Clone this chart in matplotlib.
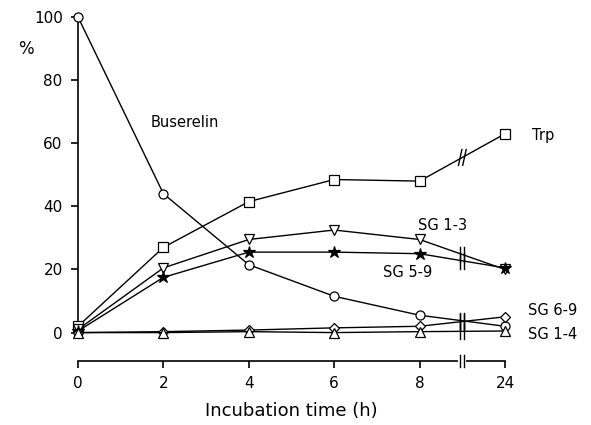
import numpy as np
import matplotlib
matplotlib.use('agg')
import matplotlib.pyplot as plt

time_labels = ['0', '2', '4', '6', '8', '24']

buserelin = [100, 44, 21.5, 11.5, 5.5, 2]
trp = [2, 27, 41.5, 48.5, 48, 63]
sg_1_3 = [1, 20.5, 29.5, 32.5, 29.5, 20]
sg_5_9 = [0.5, 17.5, 25.5, 25.5, 25, 20.5]
sg_6_9 = [0, 0.3, 0.8, 1.5, 2, 5]
sg_1_4 = [0, 0, 0.3, 0, 0.3, 0.5]

# the last sample (24 h) sits after an axis break, one step past 8 h
xpos = np.arange(len(time_labels)) * 2.0
xbreak = 9.0

series = [
    (buserelin, dict(marker='o', mfc='white')),
    (trp, dict(marker='s', mfc='white')),
    (sg_1_3, dict(marker='v', mfc='white')),
    (sg_5_9, dict(marker='*', mfc='black', markersize=9)),
    (sg_6_9, dict(marker='D', mfc='white', markersize=5)),
    (sg_1_4, dict(marker='^', mfc='white')),
]

fig = plt.figure(figsize=(5.91, 4.25), dpi=100)
ax = fig.add_axes([0.132, 0.1506, 0.7225, 0.8094])

for vals, style in series:
    kw = dict(color='black', lw=1.0, markersize=6.5, mec='black', mew=0.9,
              clip_on=False, zorder=3)
    kw.update(style)
    ax.plot(xpos, vals, **kw)

# break marks where each line crosses the gap between 8 h and 24 h
for vals, _ in series:
    ymid = (vals[-2] + vals[-1]) / 2.0
    slant = 0.04 if vals is trp else 0.0
    for dx in (-0.05, 0.05):
        ax.plot([xbreak + dx - slant, xbreak + dx + slant],
                [ymid - 2.5, ymid + 2.5], color='black',
                lw=1.0, zorder=4, clip_on=False)

ax.set_xlim(0, 10)
ax.set_ylim(-9, 100)
for side in ('top', 'right'):
    ax.spines[side].set_visible(False)
ax.spines['left'].set_bounds(0, 100)
ax.spines['left'].set_linewidth(1.2)
ax.spines['bottom'].set_linewidth(1.2)

# break in the time axis
ax.plot([xbreak - 0.05, xbreak + 0.05], [-9, -9], color='white', lw=3,
        clip_on=False, zorder=5)
for dx in (-0.05, 0.05):
    ax.plot([xbreak + dx] * 2, [-11, -7], color='black', lw=1.0,
            clip_on=False, zorder=6)

ax.set_xticks(xpos)
ax.set_xticklabels(time_labels)
ax.set_yticks([0, 20, 40, 60, 80, 100])
ax.tick_params(direction='out', length=5, width=1.2, labelsize=11, pad=6)

ax.set_xlabel('Incubation time (h)', fontsize=13, labelpad=8)
fig.text(0.03, 0.885, '%', fontsize=12, ha='left', va='center')

ax.text(1.69, 66.5, 'Buserelin', fontsize=10.5, va='center')
ax.text(10.63, 62.5, 'Trp', fontsize=10.5, va='center')
ax.text(7.96, 34, 'SG 1-3', fontsize=10.5, va='center')
ax.text(7.14, 19, 'SG 5-9', fontsize=10.5, va='center')
ax.text(10.54, 7, 'SG 6-9', fontsize=10.5, va='center', clip_on=False)
ax.text(10.54, -0.5, 'SG 1-4', fontsize=10.5, va='center', clip_on=False)

plt.savefig('out.png', dpi=100)
plt.close()
